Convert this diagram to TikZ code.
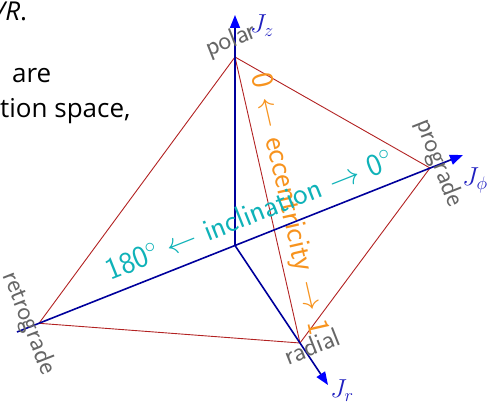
\RequirePackage{fix-cm}
\documentclass[tikz,border=0pt]{standalone}
\usepackage{fontspec}
\usepackage{amsmath}
\usetikzlibrary{arrows.meta,positioning}
\newfontfamily\slidefont{Open Sans}
\definecolor{edgered}  {HTML}{B22222}
\definecolor{axnavy}   {HTML}{00009C}
\definecolor{axtip}    {HTML}{0000FF}
\definecolor{jblue}    {HTML}{2020C0}
\definecolor{lblgray}  {HTML}{666666}
\definecolor{eccorange}{HTML}{F7931E}
\definecolor{incteal}  {HTML}{0FB2B8}
\tikzset{
  >=stealth,
  % --- lines
  edge/.style   = {draw=edgered, line width=0.9pt},
  axis/.style   = {draw=axnavy, line width=1.6pt,
                   -{Triangle[length=13pt,width=10pt,color=axtip]}},
  % --- labels
  corner/.style = {text=lblgray, font=\sffamily\fontsize{27}{32}\selectfont, inner sep=0pt},
  axlbl/.style  = {text=jblue, font=\fontsize{26}{30}\selectfont, inner sep=0pt},
  ecclbl/.style = {text=eccorange, font=\sffamily\fontsize{31}{36}\selectfont, inner sep=0pt},
  inclbl/.style = {text=incteal, font=\sffamily\fontsize{31}{36}\selectfont, inner sep=0pt},
  slide/.style  = {font=\slidefont\fontsize{26}{32}\selectfont, inner sep=0pt, anchor=base west},
}
\begin{document}
\begin{tikzpicture}[x=1pt,y=1pt]
  \useasboundingbox (0,0) rectangle (490,405);
  \clip (0,0) rectangle (490,405);

  % slide text, cut at the left edge
  \node[slide] (line1) at (-4,384) {{\itshape /R}.};
  \node[slide] (line2) at (12,322) {are};
  \node[slide] (line3) at (0,287) {tion space,};

  % corners of the action space
  \coordinate (O)       at (235,159.5);
  \coordinate (polar)   at (235,348);
  \coordinate (ztip)    at (235,390);
  \coordinate (pro)     at (430,237);
  \coordinate (phitip)  at (463,250);
  \coordinate (retro)   at (39,81.7);
  \coordinate (phitail) at (17,73);
  \coordinate (radial)  at (300,62);
  \coordinate (rtip)    at (328,20);

  \draw[edge] (polar) -- (pro);
  \draw[edge] (polar) -- (retro);
  \draw[edge] (pro) -- (radial);
  \draw[edge] (retro) -- (radial);
  \draw[edge] (polar) -- node[ecclbl, sloped, above=5pt, pos=0.53]
        {0 $\leftarrow$ eccentricity $\rightarrow$ 1} (radial);

  \draw[axis] (O) -- (ztip);
  \draw[axis] (O) -- (rtip);
  \draw[axis] (phitail) -- node[inclbl, sloped, above=12pt, pos=0.54]
        {180$^\circ$ $\leftarrow$ inclination $\rightarrow$ 0$^\circ$} (phitip);

  \node[axlbl] (jz)   at (262,379) {$J_z$};
  \node[axlbl] (jphi) at (475,225) {$J_\phi$};
  \node[axlbl] (jr)   at (342,14)  {$J_r$};

  \node[corner, rotate=21.6]  (polarlbl)  at (231,364) {polar};
  \node[corner, rotate=21.6]  (radiallbl) at (312,59)  {radial};
  \node[corner, rotate=-68.4] (prolbl)    at (439,242) {prograde};
  \node[corner, rotate=-68.4] (retrolbl)  at (29,82)   {retrograde};
\end{tikzpicture}
\end{document}
